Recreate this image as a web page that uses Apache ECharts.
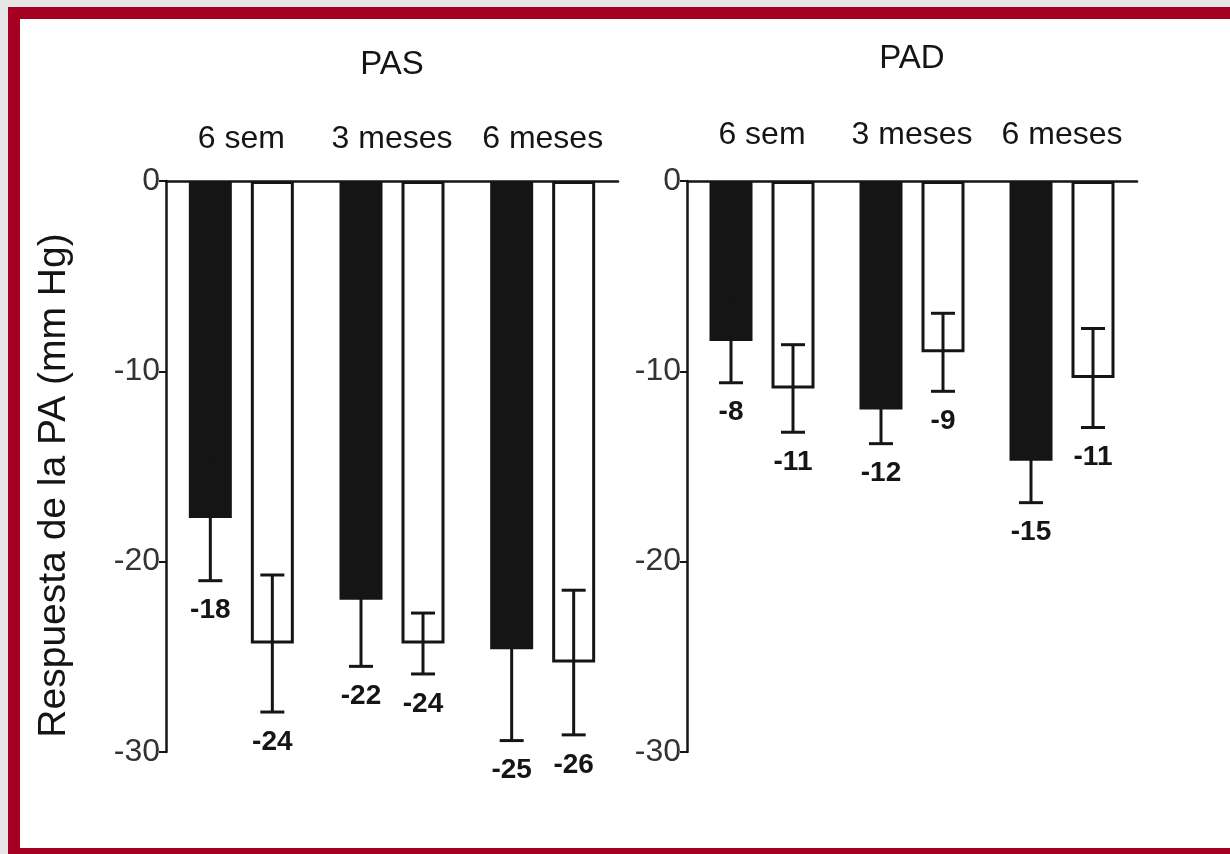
<!DOCTYPE html>
<html>
<head>
<meta charset="utf-8">
<script src="https://cdn.jsdelivr.net/npm/echarts@6/dist/echarts.min.js"></script>
<style>
  html, body { margin: 0; padding: 0; }
  body { width: 1230px; height: 854px; background: #e6e6e6; position: relative; overflow: hidden; }
  #frame { position: absolute; left: 8px; top: 7px; width: 1222px; height: 847px; background: #a50021; }
  #paper { position: absolute; left: 20px; top: 19px; width: 1210px; height: 829px; background: #ffffff; }
  #chart { position: absolute; left: 0; top: 0; width: 1230px; height: 854px; }
</style>
</head>
<body>
<div id="frame"></div>
<div id="paper"></div>
<div id="chart"></div>
<script>
// ---- data ----
const categories = ['6 sem', '3 meses', '6 meses'];
const yTicks = { min: -30, max: 0, interval: 10 };

const pasDark = [-17.7, -22.0, -24.6];
const pasDarkErr = [3.3, 3.5, 4.8];
const pasDarkLabels = ['-18', '-22', '-25'];
const pasLight = [-24.3, -24.3, -25.3];
const pasLightErr = [3.6, 1.6, 3.8];
const pasLightLabels = ['-24', '-24', '-26'];

const padDark = [-8.4, -12.0, -14.7];
const padDarkErr = [2.2, 1.8, 2.2];
const padDarkLabels = ['-8', '-12', '-15'];
const padLight = [-10.9, -9.0, -10.35];
const padLightErr = [2.3, 2.05, 2.6];
const padLightLabels = ['-11', '-9', '-11'];

// ---- style ----
const FONT = '"Liberation Sans", Arial, Helvetica, sans-serif';
const INK = '#151515';
const BAR_W = 43;
const BAR_GAP = 19;
const SHIFT = (BAR_W + BAR_GAP) / 2;
const CAP = 24;
const LABEL_DROP = 30;

function errorSeries(means, errs, labels, side, gridIdx) {
  return {
    type: 'custom',
    xAxisIndex: gridIdx,
    yAxisIndex: gridIdx,
    clip: false,
    z: 10,
    data: means.map((m, i) => [i, m, errs[i]]),
    renderItem: function (params, api) {
      const i = api.value(0);
      const m = api.value(1);
      const e = api.value(2);
      const c = api.coord([i, m]);
      const x = c[0] + side * SHIFT;
      const yLow = api.coord([i, m - e])[1];
      const yHigh = api.coord([i, m + e])[1];
      const st = { stroke: INK, lineWidth: 3 };
      return {
        type: 'group',
        children: [
          { type: 'line', shape: { x1: x, y1: yHigh, x2: x, y2: yLow }, style: st },
          { type: 'line', shape: { x1: x - CAP / 2, y1: yHigh, x2: x + CAP / 2, y2: yHigh }, style: st },
          { type: 'line', shape: { x1: x - CAP / 2, y1: yLow, x2: x + CAP / 2, y2: yLow }, style: st },
          { type: 'text', style: {
              text: labels[params.dataIndex], x: x, y: yLow + LABEL_DROP,
              textAlign: 'center', textVerticalAlign: 'middle',
              font: 'bold 28px ' + FONT, fill: INK } }
        ]
      };
    }
  };
}

function barPair(dark, light, gridIdx) {
  return [
    { type: 'bar', xAxisIndex: gridIdx, yAxisIndex: gridIdx, data: dark,
      barWidth: BAR_W, barGap: (BAR_GAP / BAR_W * 100) + '%',
      itemStyle: { color: INK }, silent: true },
    { type: 'bar', xAxisIndex: gridIdx, yAxisIndex: gridIdx, data: light,
      barWidth: BAR_W, barGap: (BAR_GAP / BAR_W * 100) + '%',
      itemStyle: { color: '#ffffff', borderColor: INK, borderWidth: 3 }, silent: true }
  ];
}

function xAxisDef(gridIdx, title, nameGap, margin) {
  return {
    type: 'category', gridIndex: gridIdx, position: 'top', data: categories,
    name: title, nameLocation: 'middle', nameGap: nameGap,
    nameTextStyle: { fontFamily: FONT, fontSize: 33, color: INK },
    axisLine: { show: true, lineStyle: { color: INK, width: 2.5 } },
    axisTick: { show: false },
    axisLabel: { fontFamily: FONT, fontSize: 32, color: INK, margin: margin, interval: 0 }
  };
}

function yAxisDef(gridIdx, withName) {
  const ax = {
    type: 'value', gridIndex: gridIdx,
    min: yTicks.min, max: yTicks.max, interval: yTicks.interval,
    axisLine: { show: true, lineStyle: { color: INK, width: 2.5 } },
    axisTick: { show: true, length: 7, lineStyle: { color: INK, width: 2 } },
    splitLine: { show: false },
    axisLabel: { fontFamily: FONT, fontSize: 32, color: '#333', margin: 6 }
  };
  if (withName) {
    ax.name = 'Respuesta de la PA (mm Hg)';
    ax.nameLocation = 'middle';
    ax.nameGap = 92;
    ax.nameTextStyle = { fontFamily: FONT, fontSize: 39, color: INK, padding: [0, 38, 0, 0] };
  }
  return ax;
}

const chart = echarts.init(document.getElementById('chart'), null, { renderer: 'canvas' });
chart.setOption({
  backgroundColor: 'transparent',
  animation: false,
  grid: [
    { left: 166, top: 181, width: 452, height: 571 },
    { left: 687, top: 181, width: 450, height: 571 }
  ],
  xAxis: [xAxisDef(0, 'PAS', 100, 26), xAxisDef(1, 'PAD', 106, 30)],
  yAxis: [yAxisDef(0, true), yAxisDef(1, false)],
  series: [
    ...barPair(pasDark, pasLight, 0),
    ...barPair(padDark, padLight, 1),
    errorSeries(pasDark, pasDarkErr, pasDarkLabels, -1, 0),
    errorSeries(pasLight, pasLightErr, pasLightLabels, 1, 0),
    errorSeries(padDark, padDarkErr, padDarkLabels, -1, 1),
    errorSeries(padLight, padLightErr, padLightLabels, 1, 1)
  ]
});
</script>
</body>
</html>
